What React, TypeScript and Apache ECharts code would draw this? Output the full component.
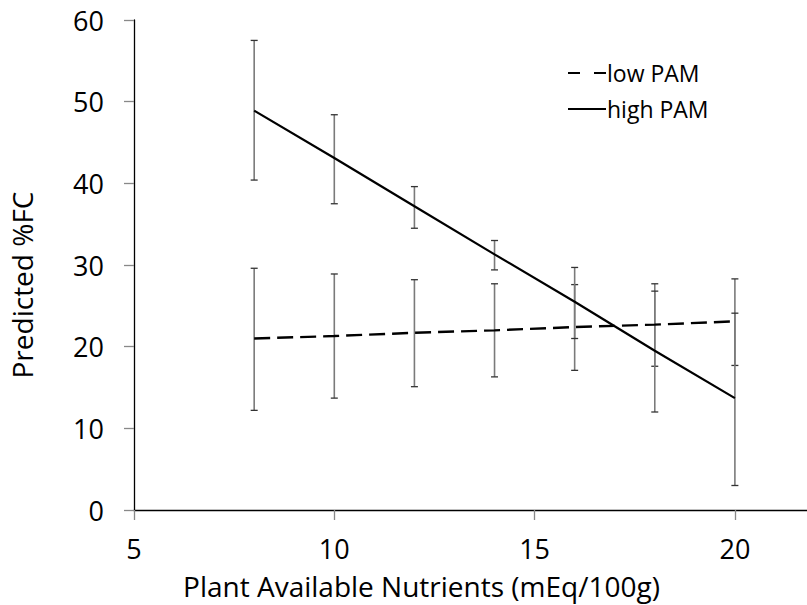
import React, { useEffect, useRef } from "react";
import * as echarts from "echarts";

const xValues = [8, 10, 12, 14, 16, 18, 20];
const lowPAM = [21.0, 21.3, 21.7, 22.0, 22.4, 22.7, 23.1];
const lowPAMUpper = [29.6, 28.9, 28.2, 27.7, 27.6, 27.7, 28.3];
const lowPAMLower = [12.2, 13.7, 15.1, 16.3, 17.1, 17.6, 17.7];
const highPAM = [48.9, 43.1, 37.2, 31.3, 25.5, 19.5, 13.7];
const highPAMUpper = [57.5, 48.4, 39.6, 33.0, 29.7, 26.8, 24.1];
const highPAMLower = [40.4, 37.5, 34.5, 29.4, 21.0, 12.0, 3.0];
const xTicks = [5, 10, 15, 20];
const seriesNames = ["low PAM", "high PAM"];
const xTitle = "Plant Available Nutrients (mEq/100g)";
const yTitle = "Predicted %FC";

const FONT = "Open Sans";

function errorBarRender(params: any, api: any) {
  const x = api.value(0);
  const lo = api.value(1);
  const hi = api.value(2);
  const pLo = api.coord([x, lo]);
  const pHi = api.coord([x, hi]);
  const hw = 3.5;
  return {
    type: "group",
    children: [
      {
        type: "line",
        shape: { x1: pLo[0], y1: pLo[1], x2: pHi[0], y2: pHi[1] },
        style: { stroke: "#7a7a7a", lineWidth: 1.6 },
      },
      {
        type: "line",
        shape: { x1: pLo[0] - hw, y1: pLo[1], x2: pLo[0] + hw, y2: pLo[1] },
        style: { stroke: "#333", lineWidth: 1.3 },
      },
      {
        type: "line",
        shape: { x1: pHi[0] - hw, y1: pHi[1], x2: pHi[0] + hw, y2: pHi[1] },
        style: { stroke: "#333", lineWidth: 1.3 },
      },
    ],
  };
}

export default function App() {
  const ref = useRef<HTMLDivElement>(null);
  useEffect(() => {
    if (!ref.current) return;
    const chart = echarts.init(ref.current, null, { renderer: "svg" });
    const lowBars = xValues.map((x, i) => [x, lowPAMLower[i], lowPAMUpper[i]]);
    const highBars = xValues.map((x, i) => [x, highPAMLower[i], highPAMUpper[i]]);
    chart.setOption({
      animation: false,
      backgroundColor: "#fff",
      grid: { left: 133, right: 0, top: 20, bottom: 93, containLabel: false },
      xAxis: {
        type: "value",
        min: 5,
        max: 21.8,
        interval: 5,
        name: xTitle,
        nameLocation: "middle",
        nameGap: 62,
        nameTextStyle: {
          fontFamily: FONT,
          fontSize: 28,
          color: "#000",
          padding: [0, 98, 0, 0],
        },
        axisLine: { show: true, onZero: false, lineStyle: { color: "#000", width: 1.3 } },
        axisTick: {
          show: true,
          length: 10,
          inside: false,
          customValues: xTicks,
          lineStyle: { color: "#888", width: 1.3 },
        },
        axisLabel: {
          customValues: xTicks,
          margin: 25,
          fontFamily: FONT,
          fontSize: 27,
          color: "#000",
        },
        splitLine: { show: false },
      },
      yAxis: {
        type: "value",
        min: 0,
        max: 60,
        interval: 10,
        name: yTitle,
        nameLocation: "middle",
        nameGap: 98,
        nameTextStyle: {
          fontFamily: FONT,
          fontSize: 28,
          color: "#000",
          padding: [0, 40, 0, 0],
        },
        axisLine: { show: true, lineStyle: { color: "#000", width: 1.3 } },
        axisTick: { show: true, length: 10, lineStyle: { color: "#888", width: 1.3 } },
        axisLabel: { margin: 30, fontFamily: FONT, fontSize: 27, color: "#000" },
        splitLine: { show: false },
      },
      series: [
        {
          type: "custom",
          name: seriesNames[0] + " error",
          data: lowBars,
          renderItem: errorBarRender,
          z: 1,
          silent: true,
        },
        {
          type: "custom",
          name: seriesNames[1] + " error",
          data: highBars,
          renderItem: errorBarRender,
          z: 1,
          silent: true,
        },
        {
          type: "line",
          name: seriesNames[0],
          data: xValues.map((x, i) => [x, lowPAM[i]]),
          showSymbol: false,
          symbol: "none",
          lineStyle: { color: "#000", width: 2.4, type: [16, 7] },
          z: 3,
        },
        {
          type: "line",
          name: seriesNames[1],
          data: xValues.map((x, i) => [x, highPAM[i]]),
          showSymbol: false,
          symbol: "none",
          lineStyle: { color: "#000", width: 2.2 },
          z: 3,
        },
      ],
      graphic: [
        {
          type: "line",
          shape: { x1: 568, y1: 73, x2: 580, y2: 73 },
          style: { stroke: "#000", lineWidth: 2 },
        },
        {
          type: "line",
          shape: { x1: 594, y1: 73, x2: 606, y2: 73 },
          style: { stroke: "#000", lineWidth: 2 },
        },
        {
          type: "text",
          x: 607,
          y: 73,
          style: {
            text: seriesNames[0],
            fontFamily: FONT,
            fontSize: 23,
            fill: "#000",
            verticalAlign: "middle",
            align: "left",
          },
        },
        {
          type: "line",
          shape: { x1: 568, y1: 109, x2: 606, y2: 109 },
          style: { stroke: "#000", lineWidth: 2 },
        },
        {
          type: "text",
          x: 607,
          y: 109,
          style: {
            text: seriesNames[1],
            fontFamily: FONT,
            fontSize: 23,
            fill: "#000",
            verticalAlign: "middle",
            align: "left",
          },
        },
      ],
    });
    return () => chart.dispose();
  }, []);
  return (
    <div
      ref={ref}
      style={{ position: "fixed", left: 0, top: 0, width: 807, height: 605 }}
    />
  );
}
